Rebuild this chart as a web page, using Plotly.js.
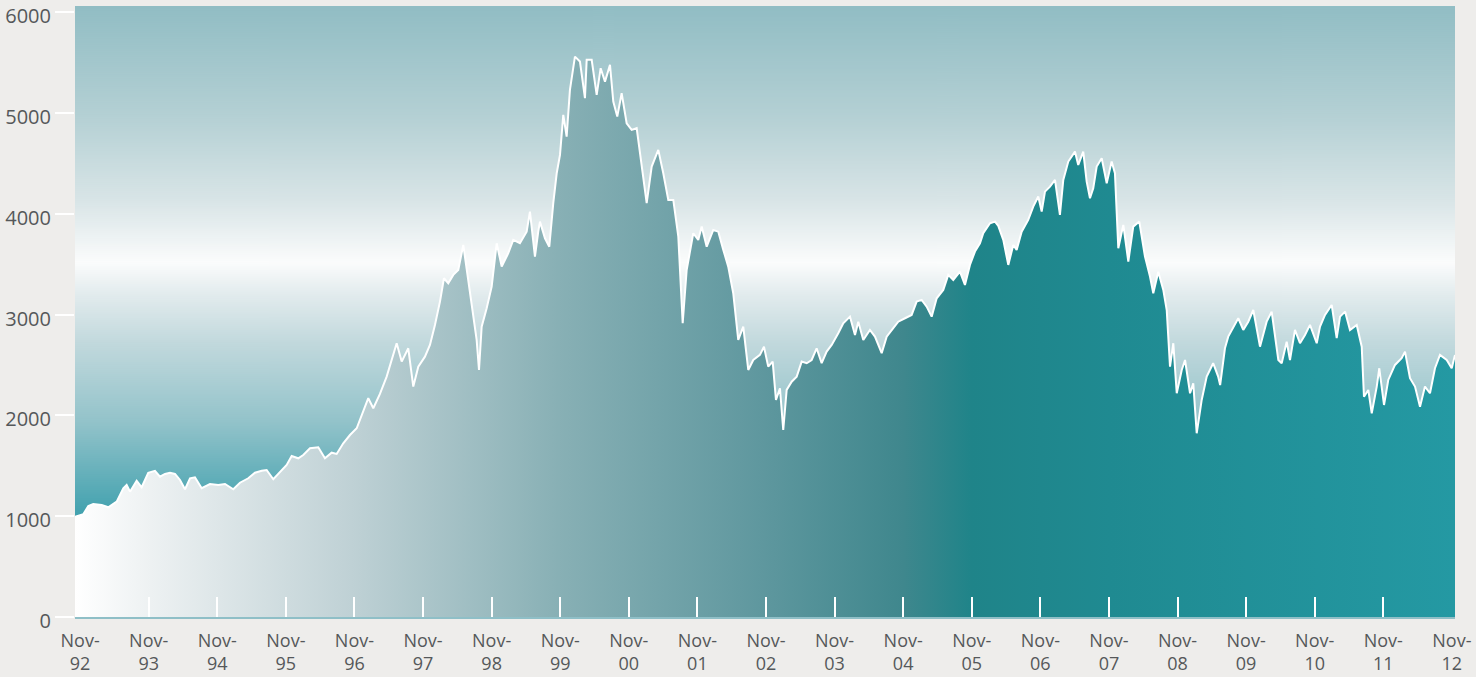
<!DOCTYPE html>
<html>
<head>
<meta charset="utf-8">
<script src="https://cdn.plot.ly/plotly-3.0.1.min.js"></script>
<style>
html,body{margin:0;padding:0;background:#eeedeb;}
#chart{width:1476px;height:677px;}
</style>
</head>
<body>
<div id="chart"></div>
<script>
// Time positions as decimal years
const yearPos = [
1992.759,1992.880,1992.953,1993.025,1993.148,1993.244,1993.367,1993.463,1993.512,1993.561,
1993.658,1993.731,1993.827,1993.925,1993.998,1994.071,1994.144,1994.217,1994.290,1994.363,
1994.436,1994.508,1994.606,1994.727,1994.848,1994.946,1995.067,1995.164,1995.285,1995.383,
1995.481,1995.553,1995.650,1995.747,1995.845,1995.918,1996.014,1996.087,1996.185,1996.306,
1996.403,1996.501,1996.574,1996.670,1996.768,1996.866,1996.939,1997.035,1997.108,1997.205,
1997.303,1997.376,1997.449,1997.522,1997.618,1997.691,1997.764,1997.861,1997.934,1998.007,
1998.080,1998.138,1998.201,1998.274,1998.347,1998.420,1998.493,1998.566,1998.615,1998.649,
1998.688,1998.761,1998.834,1998.907,1998.980,1999.076,1999.149,1999.246,1999.344,1999.392,
1999.440,1999.465,1999.513,1999.538,1999.611,1999.674,1999.732,1999.782,1999.830,1999.878,
1999.927,1999.975,2000.048,2000.121,2000.194,2000.219,2000.292,2000.365,2000.423,2000.486,
2000.559,2000.607,2000.665,2000.729,2000.802,2000.875,2000.948,2001.021,2001.094,2001.167,
2001.263,2001.336,2001.409,2001.482,2001.555,2001.619,2001.677,2001.773,2001.846,2001.896,
2001.969,2002.065,2002.138,2002.211,2002.283,2002.356,2002.429,2002.502,2002.575,2002.648,
2002.745,2002.804,2002.866,2002.931,2002.979,2003.037,2003.085,2003.135,2003.208,2003.281,
2003.354,2003.427,2003.499,2003.572,2003.645,2003.718,2003.791,2003.887,2003.960,2004.058,
2004.131,2004.179,2004.252,2004.349,2004.422,2004.520,2004.593,2004.689,2004.762,2004.860,
2004.957,2005.030,2005.103,2005.176,2005.249,2005.322,2005.418,2005.491,2005.564,2005.661,
2005.734,2005.807,2005.880,2005.953,2006.001,2006.099,2006.172,2006.220,2006.293,2006.366,
2006.439,2006.488,2006.561,2006.657,2006.730,2006.803,2006.853,2006.901,2006.974,2007.047,
2007.119,2007.168,2007.241,2007.338,2007.386,2007.459,2007.509,2007.557,2007.605,2007.655,
2007.728,2007.801,2007.873,2007.921,2007.970,2008.043,2008.116,2008.188,2008.276,2008.359,
2008.432,2008.480,2008.553,2008.626,2008.676,2008.724,2008.772,2008.822,2008.895,2008.943,
2009.016,2009.063,2009.113,2009.186,2009.259,2009.353,2009.426,2009.455,2009.525,2009.573,
2009.623,2009.719,2009.792,2009.865,2009.938,2010.036,2010.133,2010.206,2010.303,2010.352,
2010.425,2010.473,2010.546,2010.619,2010.692,2010.765,2010.863,2010.911,2010.984,2011.081,
2011.154,2011.203,2011.276,2011.348,2011.446,2011.519,2011.552,2011.615,2011.665,2011.738,
2011.775,2011.844,2011.906,2012.004,2012.101,2012.150,2012.223,2012.296,2012.369,2012.441,
2012.514,2012.587,2012.660,2012.758,2012.831,2012.879
];

// Index level
const indexValues = [
995,1019,1101,1121,1111,1088,1144,1277,1309,1243,
1352,1287,1431,1450,1392,1419,1431,1419,1359,1267,
1376,1386,1277,1319,1309,1319,1267,1332,1376,1431,
1451,1458,1366,1441,1508,1597,1574,1607,1674,1683,
1574,1630,1617,1723,1805,1872,2004,2170,2070,2212,
2384,2549,2715,2533,2665,2285,2483,2582,2698,2897,
3128,3360,3310,3393,3442,3690,3326,3012,2748,2450,
2880,3062,3276,3707,3475,3608,3740,3707,3822,4021,
3707,3574,3822,3921,3756,3673,4104,4401,4583,4980,
4765,5228,5558,5509,5146,5526,5526,5178,5443,5310,
5476,5112,4963,5195,4897,4831,4848,4451,4104,4467,
4633,4401,4137,4137,3773,2913,3442,3806,3740,3872,
3673,3839,3822,3641,3475,3211,2748,2880,2450,2549,
2600,2681,2483,2533,2153,2269,1855,2252,2334,2384,
2533,2517,2549,2665,2517,2632,2698,2814,2913,2979,
2797,2929,2748,2847,2781,2616,2781,2864,2929,2963,
2996,3128,3145,3078,2979,3161,3244,3393,3343,3425,
3293,3492,3624,3707,3806,3905,3922,3880,3740,3492,
3690,3641,3822,3938,4070,4170,4021,4219,4269,4335,
3988,4335,4517,4616,4484,4616,4318,4153,4252,4467,
4550,4302,4517,4401,3657,3889,3525,3872,3922,3574,
3376,3211,3425,3244,3045,2483,2715,2219,2450,2549,
2219,2318,1822,2153,2384,2517,2384,2300,2665,2781,
2847,2963,2847,2929,3045,2681,2929,3029,2549,2517,
2731,2549,2847,2715,2797,2897,2715,2880,2996,3095,
2765,2979,3029,2847,2897,2681,2185,2252,2021,2285,
2467,2103,2351,2500,2566,2632,2368,2285,2086,2285,
2219,2467,2599,2549,2467,2599
];

const yearLabels = ['92','93','94','95','96','97','98','99','00','01','02','03','04','05','06','07','08','09','10','11','12'];
const yTickValues = [0,1000,2000,3000,4000,5000,6000];

const xStart = yearPos[0];
const xEnd = yearPos[yearPos.length-1];
const novPos = yearLabels.map((_, i) => 1992 + 10/12 + i);
const tickText = yearLabels.map(y => 'Nov-<br>' + y);
const innerTicks = novPos.slice(1, novPos.length - 1);

// vertical gradient background for the plot area
const cv = document.createElement('canvas');
cv.width = 4; cv.height = 611;
const ctx = cv.getContext('2d');
const grd = ctx.createLinearGradient(0, 0, 0, 611);
grd.addColorStop(0.00, '#91bdc4');
grd.addColorStop(0.18, '#b4d0d4');
grd.addColorStop(0.32, '#d9e5e7');
grd.addColorStop(0.42, '#fbfcfc');
grd.addColorStop(0.47, '#e3ecee');
grd.addColorStop(0.55, '#c2d9dd');
grd.addColorStop(0.68, '#93c3ca');
grd.addColorStop(0.83, '#43a2af');
grd.addColorStop(1.00, '#2e98a6');
ctx.fillStyle = grd;
ctx.fillRect(0, 0, 4, 611);
const bgURL = cv.toDataURL('image/png');

const font = '"Open Sans", "DejaVu Sans", sans-serif';
const labelColor = '#55585a';

const traces = [
  {
    x: yearPos, y: indexValues,
    type: 'scatter', mode: 'lines',
    fill: 'tozeroy',
    fillgradient: {
      type: 'horizontal',
      start: xStart, stop: xEnd,
      colorscale: [
        [0.00, '#ffffff'],
        [0.055, '#edf1f2'],
        [0.20, '#bfd1d5'],
        [0.35, '#88b0b5'],
        [0.50, '#5e979e'],
        [0.60, '#3f878d'],
        [0.65, '#1f8489'],
        [0.75, '#1f8a91'],
        [1.00, '#2499a3']
      ]
    },
    line: {color: '#ffffff', width: 2},
    hoverinfo: 'skip', showlegend: false
  },
  {
    x: [xStart, xEnd], y: [null, null],
    xaxis: 'x2', type: 'scatter', mode: 'lines',
    hoverinfo: 'skip', showlegend: false
  }
];

const layout = {
  width: 1476, height: 677,
  margin: {l: 75, r: 21, t: 6, b: 60, pad: 0},
  paper_bgcolor: '#eeedeb',
  plot_bgcolor: 'rgba(0,0,0,0)',
  showlegend: false,
  font: {family: font, color: labelColor, size: 20},
  images: [{
    source: bgURL, xref: 'paper', yref: 'paper',
    x: 0, y: 1, sizex: 1, sizey: 1, sizing: 'stretch',
    xanchor: 'left', yanchor: 'top', layer: 'below'
  }],
  xaxis: {
    type: 'linear', range: [xStart, xEnd],
    tickmode: 'array', tickvals: innerTicks,
    showticklabels: false,
    ticks: 'inside', ticklen: 20, tickwidth: 2, tickcolor: '#ffffff',
    showgrid: false, zeroline: false,
    showline: true, linecolor: '#8fbfc7', linewidth: 2
  },
  xaxis2: {
    type: 'linear', range: [xStart, xEnd],
    overlaying: 'x', side: 'bottom', anchor: 'y',
    tickmode: 'array', tickvals: novPos, ticktext: tickText,
    ticks: '', showgrid: false, zeroline: false, showline: false,
    tickfont: {family: font, size: 18, color: labelColor},
    ticklabelstandoff: 11,
    ticklabeloverflow: 'allow'
  },
  yaxis: {
    range: [0, 6060],
    tickmode: 'array', tickvals: yTickValues,
    ticks: 'outside', ticklen: 19, tickwidth: 2, tickcolor: '#ffffff',
    showgrid: false, zeroline: false, showline: false,
    tickfont: {family: font, size: 20, color: labelColor},
    ticklabelshift: 4,
    ticklabeloverflow: 'allow'
  }
};

Plotly.newPlot('chart', traces, layout, {displayModeBar: false, staticPlot: true});
</script>
</body>
</html>
